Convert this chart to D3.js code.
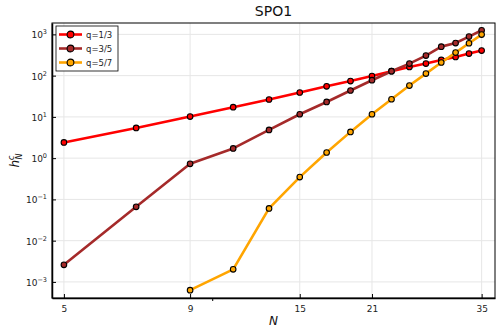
<!DOCTYPE html>
<html>
<head>
<meta charset="utf-8">
<script src="https://cdn.jsdelivr.net/npm/d3@7"></script>
<style>
  body { margin: 0; background: #fff; }
  svg { font-family: "DejaVu Sans", sans-serif; }
</style>
</head>
<body>
<div id="chart"></div>
<script>
// values
var nValues = [5, 7, 9, 11, 13, 15, 17, 19, 21, 23, 25, 27, 29, 31, 33, 35];
var q13 = [2.4, 5.4, 10.2, 17.2, 26.4, 39, 55, 74, 98, 128, 162, 196, 240, 283, 343, 405];
var q35 = [0.0026, 0.066, 0.73, 1.72, 4.84, 11.6, 23, 43.6, 77.5, 128, 196, 307, 505, 617, 884, 1260];
var q57N = [9, 11, 13, 15, 17, 19, 21, 23, 25, 27, 29, 31, 33, 35];
var q57 = [0.00063, 0.00202, 0.0605, 0.347, 1.37, 4.33, 11.6, 26.8, 57.5, 112, 208, 362, 609, 990];
var xTicks = [5, 9, 15, 21, 35];
var yTicks = [-3, -2, -1, 0, 1, 2, 3];
var seriesNames = ["q=1/3", "q=3/5", "q=5/7"];
var seriesColors = ["#ff0000", "#a52a2a", "#ffa500"];

var svgWidth = 498;
var svgHeight = 332;
var margin = {top: 23, right: 3, bottom: 34, left: 52};

var svg = d3.select("#chart")
    .append("svg")
    .attr("width", svgWidth)
    .attr("height", svgHeight);

var x = d3.scaleLog()
    .domain([4.73, 37.25])
    .range([margin.left, svgWidth - margin.right]);

var y = d3.scaleLog()
    .domain([Math.pow(10, -3.39), Math.pow(10, 3.276)])
    .range([svgHeight - margin.bottom, margin.top]);

var plotTop = margin.top, plotBottom = svgHeight - margin.bottom;
var plotLeft = margin.left, plotRight = svgWidth - margin.right;

// grid
svg.append("g").selectAll("line")
    .data(xTicks)
    .enter().append("line")
    .attr("x1", d => x(d)).attr("x2", d => x(d))
    .attr("y1", plotTop).attr("y2", plotBottom)
    .attr("stroke", "#e6e6e6").attr("stroke-width", 1);

svg.append("g").selectAll("line")
    .data(yTicks)
    .enter().append("line")
    .attr("x1", plotLeft).attr("x2", plotRight)
    .attr("y1", d => y(Math.pow(10, d))).attr("y2", d => y(Math.pow(10, d)))
    .attr("stroke", "#e6e6e6").attr("stroke-width", 1);

// frame
svg.append("rect")
    .attr("x", plotLeft).attr("y", plotTop)
    .attr("width", plotRight - plotLeft).attr("height", plotBottom - plotTop)
    .attr("fill", "none").attr("stroke", "#000").attr("stroke-width", 1);

// axes
var bottomAxis = d3.axisBottom(x)
    .tickValues(xTicks)
    .tickFormat(d3.format("d"))
    .tickSizeInner(-4).tickSizeOuter(0).tickPadding(8);

var xAxis = svg.append("g")
    .attr("transform", `translate(0, ${plotBottom})`)
    .call(bottomAxis);
xAxis.select(".domain").attr("stroke-width", 1.5);
xAxis.selectAll("text").attr("font-size", 9).attr("fill", "#222").attr("font-family", "DejaVu Sans");

// minor tick at 10
svg.append("line")
    .attr("x1", x(10)).attr("x2", x(10))
    .attr("y1", plotBottom).attr("y2", plotBottom + 3)
    .attr("stroke", "#000");

var leftAxis = d3.axisLeft(y)
    .tickValues(yTicks.map(d => Math.pow(10, d)))
    .tickFormat("")
    .tickSizeInner(-4).tickSizeOuter(0);

var yAxis = svg.append("g")
    .attr("transform", `translate(${plotLeft}, 0)`)
    .call(leftAxis);
yAxis.select(".domain").attr("stroke-width", 1.5);

var yLabels = svg.append("g").selectAll("text")
    .data(yTicks)
    .enter().append("text")
    .attr("x", plotLeft - 5)
    .attr("y", d => y(Math.pow(10, d)) + 4)
    .attr("text-anchor", "end")
    .attr("font-size", 9)
    .attr("fill", "#222");
yLabels.append("tspan").text("10");
yLabels.append("tspan")
    .attr("dy", -4)
    .attr("font-size", 6.5)
    .text(d => d < 0 ? "\u2212" + (-d) : d);

// lines and markers
var allSeries = [
    {name: seriesNames[0], color: seriesColors[0], xs: nValues, ys: q13},
    {name: seriesNames[1], color: seriesColors[1], xs: nValues, ys: q35},
    {name: seriesNames[2], color: seriesColors[2], xs: q57N, ys: q57}
];

var line = d3.line()
    .x(d => x(d[0]))
    .y(d => y(d[1]));

allSeries.forEach(function(s) {
    var pts = s.xs.map((n, i) => [n, s.ys[i]]);
    svg.append("path")
        .datum(pts)
        .attr("d", line)
        .attr("fill", "none")
        .attr("stroke", s.color)
        .attr("stroke-width", 2.6)
        .attr("stroke-linejoin", "round");
    svg.append("g").selectAll("circle")
        .data(pts)
        .enter().append("circle")
        .attr("cx", d => x(d[0]))
        .attr("cy", d => y(d[1]))
        .attr("r", 2.8)
        .attr("fill", s.color)
        .attr("stroke", "#000")
        .attr("stroke-width", 1.1);
});

// legend
var legend = svg.append("g").attr("transform", "translate(56, 26)");
legend.append("rect")
    .attr("width", 62).attr("height", 45)
    .attr("fill", "#fff").attr("stroke", "#000").attr("stroke-width", 0.8);

var items = legend.selectAll("g.item")
    .data(allSeries)
    .enter().append("g")
    .attr("transform", (d, i) => `translate(0, ${8.5 + i * 14})`);
items.append("line")
    .attr("x1", 3).attr("x2", 26)
    .attr("stroke", d => d.color).attr("stroke-width", 2.6);
items.append("circle")
    .attr("cx", 14.5).attr("r", 3.4)
    .attr("fill", d => d.color).attr("stroke", "#000").attr("stroke-width", 1.1);
items.append("text")
    .attr("x", 30).attr("y", 3)
    .attr("font-size", 8.5)
    .attr("fill", "#222")
    .text(d => d.name);

// title
svg.append("text")
    .attr("x", (plotLeft + plotRight) / 2)
    .attr("y", 16)
    .attr("text-anchor", "middle")
    .attr("font-size", 14)
    .attr("fill", "#111")
    .text("SPO1");

// axis labels
svg.append("text")
    .attr("x", (plotLeft + plotRight) / 2)
    .attr("y", 325)
    .attr("text-anchor", "middle")
    .attr("font-size", 12)
    .attr("font-style", "italic")
    .attr("fill", "#111")
    .text("N");

var yl = svg.append("text")
    .attr("transform", `translate(19, ${(plotTop + plotBottom) / 2}) rotate(-90)`)
    .attr("text-anchor", "middle")
    .attr("font-size", 12)
    .attr("font-style", "italic")
    .attr("fill", "#111");
yl.append("tspan").text("h");
yl.append("tspan").attr("font-size", 8).attr("dy", -5).attr("dx", 0).text("c");
yl.append("tspan").attr("font-size", 8).attr("dy", 8).attr("dx", -4).text("N");
</script>
</body>
</html>
